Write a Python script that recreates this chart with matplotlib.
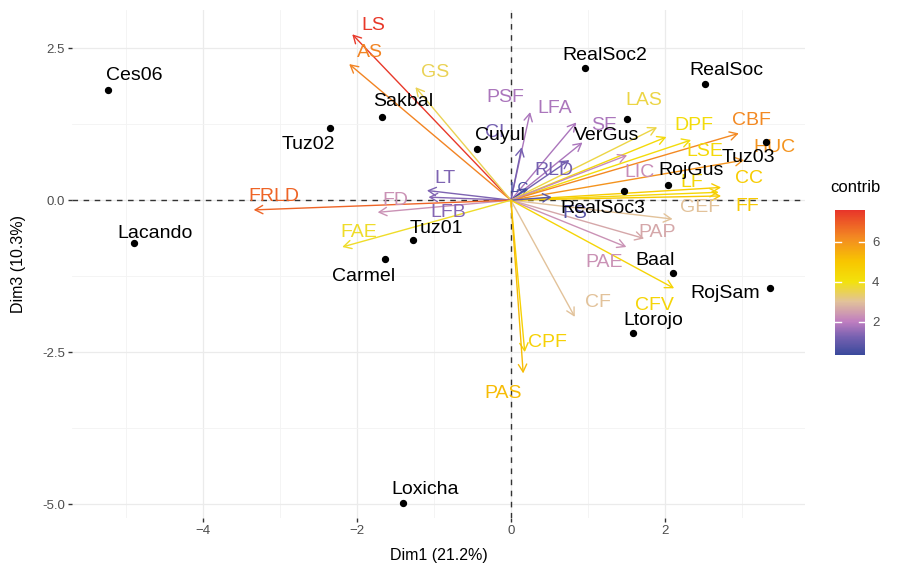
import numpy as np
import matplotlib
matplotlib.use('Agg')
import matplotlib.pyplot as plt
from matplotlib.colors import LinearSegmentedColormap, Normalize
from matplotlib.colorbar import ColorbarBase

plt.rcParams['font.family'] = ['Liberation Sans', 'DejaVu Sans']

# individuals (Dim1, Dim3)
ind_names = ['Ces06', 'Sakbal', 'Tuz02', 'Cuyul', 'RealSoc2', 'RealSoc', 'VerGus', 'Tuz03',
             'RojGus', 'RealSoc3', 'Lacando', 'Tuz01', 'Carmel', 'Baal', 'RojSam', 'Ltorojo', 'Loxicha']
ind_x = [-5.23, -1.68, -2.35, -0.44, 0.96, 2.52, 1.51, 3.31,
         2.04, 1.47, -4.90, -1.27, -1.63, 2.10, 3.36, 1.58, -1.40]
ind_y = [1.81, 1.37, 1.18, 0.84, 2.17, 1.92, 1.33, 0.95,
         0.25, 0.15, -0.71, -0.66, -0.97, -1.20, -1.45, -2.19, -4.98]

# variables (arrow tips) and contributions
var_names = ['LS', 'AS', 'GS', 'PSF', 'LFA', 'CI', 'SE', 'RLD', 'LC', 'LT', 'LFB', 'FD', 'FRLD', 'FAE',
             'LAS', 'LSE', 'DPF', 'CBF', 'HUC', 'LIC', 'CC', 'LF', 'FF', 'GEF', 'PAP', 'PAE',
             'FS', 'CF', 'CFV', 'CPF', 'PAS']
var_x = [-2.06, -2.10, -1.24, 0.25, 0.85, 0.14, 0.93, 0.76, 0.21, -1.09, -1.07, -1.73, -3.34, -2.19,
         1.90, 2.02, 2.34, 2.96, 3.03, 1.51, 2.73, 2.70, 2.73, 2.10, 1.73, 1.50,
         0.53, 0.83, 2.12, 0.18, 0.16]
var_y = [2.73, 2.24, 1.86, 1.45, 1.28, 0.87, 0.95, 0.66, 0.20, 0.16, 0.05, -0.20, -0.16, -0.77,
         1.20, 1.04, 0.99, 1.10, 0.66, 0.74, 0.21, 0.13, 0.07, -0.31, -0.63, -0.77,
         0.05, -1.92, -1.45, -2.50, -2.85]
var_contrib = [7.5, 6.3, 3.5, 1.8, 1.8, 1.2, 1.8, 1.2, 0.5, 1.3, 1.4, 2.3, 6.8, 3.8,
               3.6, 4.3, 4.2, 6.2, 6.0, 2.2, 4.8, 4.4, 4.9, 3.0, 2.6, 2.3,
               0.8, 3.0, 4.5, 4.6, 5.2]

# label offsets in pixels (dx right, dy down)
ind_off = [(26, -15), (22, -15), (-22, 16), (23, -14), (20, -13), (21, -13), (-21, 16), (-17, 15),
           (23, -15), (-21, 17), (21, -10), (23, -12), (-22, 17), (-18, -13), (-44, 5), (21, -13), (22, -13)]
var_off = [(21, -9), (21, -12), (20, -15), (-25, -15), (-22, -14), (-27, -15), (22, -17), (-15, 10),
           (-8, 0), (18, -12), (20, 15), (18, -12), (20, -13), (16, -14),
           (-13, -27), (38, 15), (3, -15), (13, -13), (30, -13), (12, 17), (28, -9), (-27, -10),
           (26, 11), (27, -12), (13, -6), (-22, 16), (23, 16), (23, -14), (-20, 17), (23, -10), (-20, 20)]

vmin, vmax = 0.33, 7.58
nodes = [(0.33, '#3a4a9c'), (1.2, '#7560b0'), (2.0, '#c07ec0'), (3.0, '#e2c29a'),
         (4.0, '#f2e20c'), (5.0, '#f8c600'), (6.2, '#f38a22'), (7.58, '#e8352a')]
cmap = LinearSegmentedColormap.from_list('contrib', [((v - vmin) / (vmax - vmin), c) for v, c in nodes])
norm = Normalize(vmin, vmax)

fig = plt.figure(figsize=(9.02, 5.75), dpi=100)
ax = fig.add_axes([72 / 902, 57 / 575, 733 / 902, 508 / 575])
ax.set_xlim(-5.70, 3.82)
ax.set_ylim(-5.23, 3.13)

ax.set_xticks([-4, -2, 0, 2])
ax.set_xticks([-5, -3, -1, 1, 3], minor=True)
ax.set_yticks([-5, -2.5, 0, 2.5])
ax.set_yticklabels(['-5.0', '-2.5', '0.0', '2.5'])
ax.set_yticks([-3.75, -1.25, 1.25], minor=True)
ax.grid(which='major', color='#ebebeb', lw=0.9)
ax.grid(which='minor', color='#f3f3f3', lw=0.6)
ax.set_axisbelow(True)
for s in ax.spines.values():
    s.set_visible(False)
ax.tick_params(which='major', length=3, width=1, color='#333333', labelcolor='#4d4d4d', labelsize=9.5, pad=2)
ax.tick_params(which='minor', length=0)

ax.axhline(0, color='#333333', lw=1, ls=(0, (4, 4)), zorder=1)
ax.axvline(0, color='#333333', lw=1, ls=(0, (4, 4)), zorder=1)

for name, x, y, c, (dx, dy) in zip(var_names, var_x, var_y, var_contrib, var_off):
    col = cmap(norm(c))
    ax.annotate('', xy=(x, y), xytext=(0, 0),
                arrowprops=dict(arrowstyle='->,head_length=0.55,head_width=0.3', color=col, lw=1.0,
                                shrinkA=0, shrinkB=0, mutation_scale=10), zorder=2)
    fs = 11 if name == 'LC' else 14
    ax.annotate(name, xy=(x, y), xytext=(dx, -dy), textcoords='offset pixels',
                ha='center', va='center', fontsize=fs, color=col, zorder=3)

ax.scatter(ind_x, ind_y, s=18, color='black', zorder=4)
for name, x, y, (dx, dy) in zip(ind_names, ind_x, ind_y, ind_off):
    ax.annotate(name, xy=(x, y), xytext=(dx, -dy), textcoords='offset pixels',
                ha='center', va='center', fontsize=14, color='black', zorder=5)

ax.set_xlabel('Dim1 (21.2%)', fontsize=11.5, color='black', labelpad=8)
ax.set_ylabel('Dim3 (10.3%)', fontsize=11.5, color='black', labelpad=12)

# colour bar
cax = fig.add_axes([835 / 902, (575 - 355) / 575, 30 / 902, 145 / 575])
cb = ColorbarBase(cax, cmap=cmap, norm=norm, orientation='vertical')
cb.outline.set_visible(False)
cb.set_ticks([2, 4, 6])
cax.tick_params(length=0, labelsize=9.5, labelcolor='#4d4d4d', pad=5)
for t in [2, 4, 6]:
    cax.plot([0, 0.2], [t, t], color='white', lw=1, transform=cax.get_yaxis_transform())
    cax.plot([0.8, 1], [t, t], color='white', lw=1, transform=cax.get_yaxis_transform())
fig.text(855 / 902, 1 - 187 / 575, 'contrib', ha='center', va='center', fontsize=12)

fig.savefig('out.png', dpi=100)
